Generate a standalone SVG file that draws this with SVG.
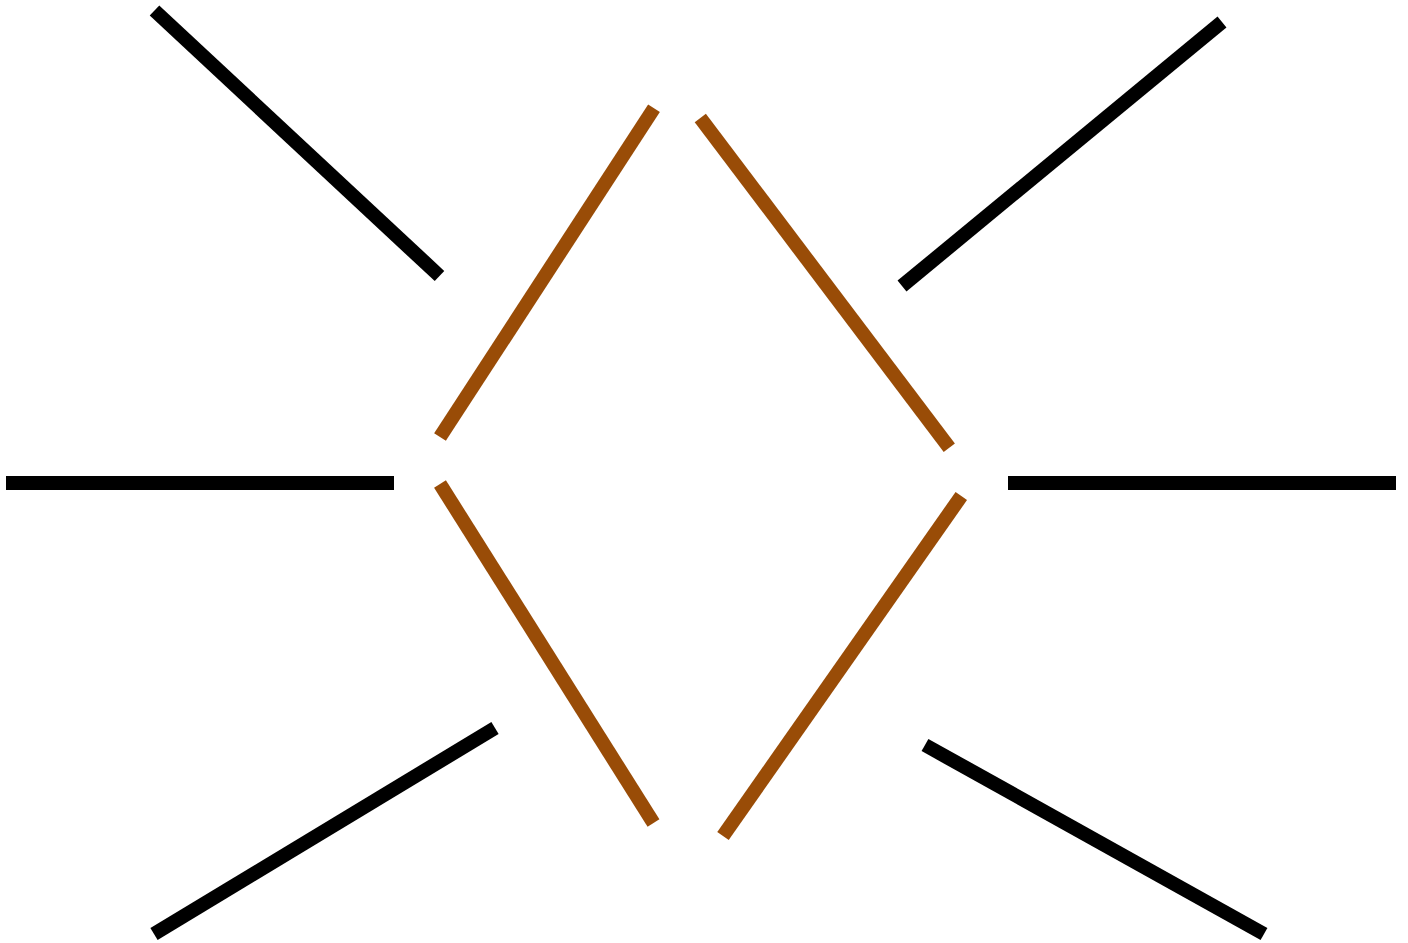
<svg xmlns="http://www.w3.org/2000/svg" width="1408" height="943" viewBox="0 0 1408 943">
<style>
.k{stroke:#000;stroke-width:14;fill:none;stroke-linecap:butt}
.b{stroke:#994C07;stroke-width:14;fill:none;stroke-linecap:butt}
</style>
<rect width="1408" height="943" fill="#fff"/>
<g id="connectors">
<line class="k" x1="154.5" y1="10.5" x2="439.5" y2="276"/>
<line class="k" x1="1222" y1="22" x2="902" y2="286"/>
<line class="k" x1="6" y1="483" x2="394" y2="483"/>
<line class="k" x1="1008" y1="483" x2="1396" y2="483"/>
<line class="k" x1="495" y1="728" x2="154" y2="934"/>
<line class="k" x1="925" y1="745" x2="1264" y2="934"/>
<line class="b" x1="654" y1="108.3" x2="440" y2="437"/>
<line class="b" x1="700.3" y1="118" x2="949.3" y2="447.7"/>
<line class="b" x1="440" y1="484" x2="653.5" y2="823"/>
<line class="b" x1="961.3" y1="496" x2="723" y2="836"/>
</g>
</svg>
